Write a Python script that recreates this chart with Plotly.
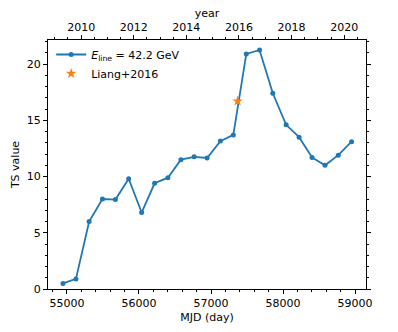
import plotly.graph_objects as go

# TS light curve, half-year bins
mjd = [54945, 55125, 55308, 55493, 55673, 55857, 56037, 56217, 56402, 56582, 56766, 56946,
       57130, 57310, 57490, 57674, 57858, 58043, 58223, 58403, 58583, 58767, 58952]
ts = [0.5, 0.9, 6.0, 8.0, 7.95, 9.8, 6.8, 9.4, 9.9, 11.5, 11.75, 11.65,
      13.15, 13.7, 20.9, 21.25, 17.4, 14.6, 13.5, 11.7, 11.0, 11.9, 13.1]

# Liang+2016 point
liang_mjd = [57369]
liang_ts = [16.7]

mjd_range = [54737, 59152]
ts_range = [0, 22.14]
year_ticks = [2010, 2012, 2014, 2016, 2018, 2020]
mjd_ticks = [55000, 56000, 57000, 58000, 59000]


def mjd_to_year(m):
    return 2000 + (m - 51544.5) / 365.25


blue = '#1f77b4'
orange = '#ff7f0e'
font = dict(family='DejaVu Sans', size=11, color='black')

fig = go.Figure()
fig.add_trace(go.Scatter(
    x=mjd, y=ts, mode='lines+markers',
    name='<i>E</i><sub>line</sub> = 42.2 GeV',
    line=dict(color=blue, width=1.8),
    marker=dict(color=blue, size=5)))
fig.add_trace(go.Scatter(
    x=liang_mjd, y=liang_ts, mode='markers', name='Liang+2016',
    marker=dict(color=orange, size=8, symbol='star')))
# dummy trace so the top year axis is drawn
fig.add_trace(go.Scatter(
    x=[mjd_to_year(m) for m in mjd_range], y=[None, None], xaxis='x2',
    mode='markers', showlegend=False, hoverinfo='skip'))

axis_common = dict(showline=True, linecolor='black', linewidth=1, showgrid=False,
                   zeroline=False, ticks='outside', ticklen=4, tickwidth=1,
                   tickcolor='black', tickfont=font, tickformat='d', automargin=False)

fig.update_layout(
    width=398, height=332,
    margin=dict(l=48, r=32, t=40, b=43),
    paper_bgcolor='white', plot_bgcolor='white',
    font=font,
    showlegend=True,
    legend=dict(x=0.01, y=1.0, xanchor='left', yanchor='top',
                bgcolor='rgba(0,0,0,0)', font=font, tracegroupgap=0),
    xaxis=dict(range=mjd_range, tickvals=mjd_ticks,
               minor=dict(dtick=200, ticks='outside', ticklen=2, tickcolor='black'),
               title=dict(text='MJD (day)', standoff=4, font=font),
               **axis_common),
    xaxis2=dict(range=[mjd_to_year(m) for m in mjd_range], overlaying='x', side='top',
                tickvals=year_ticks,
                minor=dict(dtick=0.5, ticks='outside', ticklen=2, tickcolor='black'),
                title=dict(text='year', standoff=0, font=font),
                **axis_common),
    yaxis=dict(range=ts_range, dtick=5, mirror='ticks',
               minor=dict(dtick=1, ticks='outside', ticklen=2, tickcolor='black'),
               title=dict(text='TS value', standoff=4, font=font),
               **axis_common),
)

# page body has a default margin; drop it so the figure sits at the window corner
fig.write_html('out.html', config={'displayModeBar': False},
               post_script="document.body.style.margin='0';")
